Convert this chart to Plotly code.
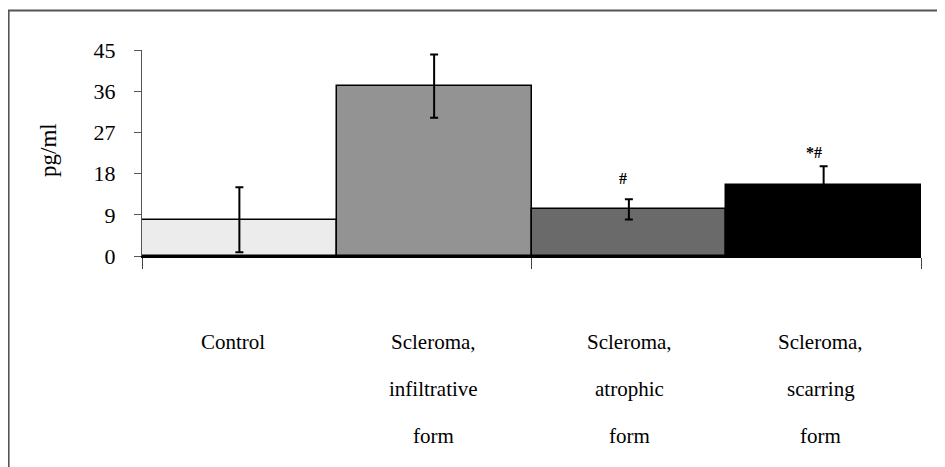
import plotly.graph_objects as go

# ---- data ----
categories = ["Control", "Scleroma, infiltrative form", "Scleroma, atrophic form", "Scleroma, scarring form"]
label_lines = [["Control"], ["Scleroma,", "infiltrative", "form"], ["Scleroma,", "atrophic", "form"], ["Scleroma,", "scarring", "form"]]
means = [7.9, 37.1, 10.2, 15.6]
errors = [7.1, 6.9, 2.2, 4.0]
sig_marks = ["", "", "#", "*#"]
y_ticks = [0, 9, 18, 27, 36, 45]

# ---- style ----
bar_colors = ["#ececec", "#939393", "#6a6a6a", "#000000"]
OFF = 8  # page body margin
W, H = 945 - OFF, 467 - OFF
# plot area in screenshot pixels: x 142..921, y 50..256
L, T = 142 - OFF, 50 - OFF
R = W - (921 - OFF)
B = H - (256 - OFF)
pw, ph = W - L - R, H - T - B
serif = "Liberation Serif, Times New Roman, serif"


def px_x(px):
    return (px - OFF - L) / pw


def px_y(py):
    return (H - B - (py - OFF)) / ph


xs = list(range(len(categories)))

fig = go.Figure()
fig.add_trace(go.Bar(
    x=xs, y=means, width=1.0,
    marker=dict(color=bar_colors, line=dict(color="black", width=1.5)),
    error_y=dict(type="data", array=errors, visible=True, color="black", thickness=2, width=4),
    hoverinfo="skip",
))

annotations = []
row_y = [342, 389, 436]
label_shift = [-6, -1, 1, -3]
for i, lines in enumerate(label_lines):
    for j, line in enumerate(lines):
        annotations.append(dict(
            x=xs[i], xref="x", y=px_y(row_y[j]), yref="paper",
            text=line, showarrow=False, xanchor="center", yanchor="middle",
            xshift=label_shift[i],
            font=dict(family=serif, size=21, color="black"),
        ))

sig_shift = [(0, 0), (0, 0), (-6, 10), (-10, 3)]
for i, m in enumerate(sig_marks):
    if m:
        annotations.append(dict(
            x=xs[i], xref="x", y=means[i] + errors[i], yref="y",
            text="<b>" + m + "</b>", showarrow=False, xanchor="center", yanchor="bottom",
            xshift=sig_shift[i][0], yshift=sig_shift[i][1],
            font=dict(family=serif, size=16, color="black"),
        ))

annotations.append(dict(
    x=px_x(48), xref="paper", y=px_y(150), yref="paper",
    text="pg/ml", textangle=-90, showarrow=False, xanchor="center", yanchor="middle",
    font=dict(family=serif, size=23, color="black"),
))

shapes = [
    dict(type="line", xref="paper", yref="paper", x0=px_x(8.6), x1=px_x(8.6), y0=px_y(10), y1=px_y(480),
         line=dict(color="#555555", width=2)),
    dict(type="line", xref="paper", yref="paper", x0=px_x(8), x1=px_x(960), y0=px_y(10.5), y1=px_y(10.5),
         line=dict(color="#555555", width=2)),
]

fig.update_layout(
    width=W, height=H,
    margin=dict(l=L, r=R, t=T, b=B, pad=0),
    paper_bgcolor="white", plot_bgcolor="white",
    showlegend=False,
    bargap=0,
    annotations=annotations,
    shapes=shapes,
    xaxis=dict(
        range=[-0.5, 3.5], tickvals=[-0.5, 1.5, 3.5], ticks="outside", ticklen=11,
        tickcolor="#444444", tickwidth=1, showticklabels=False,
        showline=True, linecolor="black", linewidth=2, showgrid=False, zeroline=False,
    ),
    yaxis=dict(
        range=[0, 45], tickvals=y_ticks, ticks="outside", ticklen=7, tickcolor="#555555",
        tickfont=dict(family=serif, size=22, color="black"), ticklabelstandoff=14,
        showline=True, linecolor="#555555", linewidth=1, showgrid=False, zeroline=False,
    ),
)

fig.write_html("out.html")
